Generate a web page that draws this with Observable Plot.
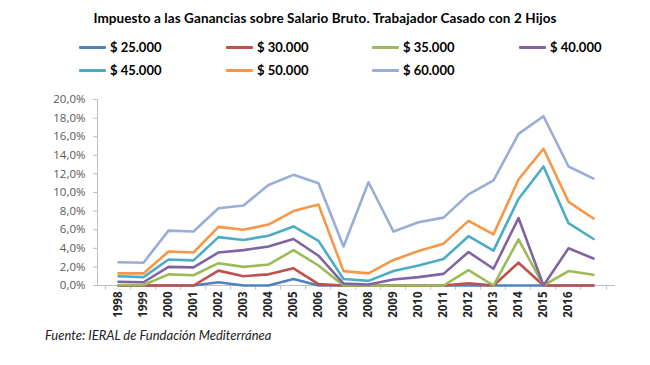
<!DOCTYPE html>
<html><head><meta charset="utf-8">
<script src="https://cdn.jsdelivr.net/npm/d3@7"></script>
<script src="https://cdn.jsdelivr.net/npm/@observablehq/plot@0.6"></script>
<style>
body{margin:0;background:#fff;}
#wrap{position:relative;width:650px;height:365px;overflow:hidden;font-family:Lato,sans-serif;color:#000;}
#title{position:absolute;left:0;width:650px;top:10px;text-align:center;font-weight:bold;font-size:13.5px;letter-spacing:0.1px;}
.leg{position:absolute;display:flex;align-items:center;font-weight:bold;font-size:13px;height:16px;}
.sw{width:27px;height:3px;margin-right:4px;border-radius:1px;}
#chart{position:absolute;left:0;top:85px;}
#cap{position:absolute;left:45px;top:327px;font-style:italic;font-size:13px;color:#222;}
#chart svg [aria-label^="y-axis"] text{fill:#595959;}
#chart svg [aria-label^="x-axis"] text{fill:#262626;font-weight:bold;}
</style></head>
<body>
<div id="wrap">
  <div id="title">Impuesto a las Ganancias sobre Salario Bruto. Trabajador Casado con 2 Hijos</div>
  <div id="legend"></div>
  <div id="chart"></div>
  <div id="cap">Fuente: IERAL de Fundación Mediterránea</div>
</div>
<script>
const years = [1998,1999,2000,2001,2002,2003,2004,2005,2006,2007,2008,2009,2010,2011,2012,2013,2014,2015,2016,2017];
const yearLabels = ["1998","1999","2000","2001","2002","2003","2004","2005","2006","2007","2008","2009","2010","2011","2012","2013","2014","2015","2016",""];
const seriesNames = ["$ 25.000","$ 30.000","$ 35.000","$ 40.000","$ 45.000","$ 50.000","$ 60.000"];
const seriesColors = ["#4F81BD","#C0504D","#9BBB59","#8064A2","#4BACC6","#F79646","#98AED8"];
const yTicks = [0,2,4,6,8,10,12,14,16,18,20];

const s25 = [0,0,0,0,0.35,0,0,0.7,0,0,0,0,0,0,0,0,0,0,0,0];
const s30 = [0,0,0,0,1.6,1.0,1.2,1.85,0.15,0,0,0,0,0,0.25,0,2.45,0,0,0];
const s35 = [0.05,0.05,1.2,1.1,2.4,2.0,2.25,3.8,2.15,0,0,0,0,0,1.65,0,4.95,0,1.55,1.15];
const s40 = [0.4,0.35,2.0,1.95,3.55,3.8,4.2,5.0,3.2,0.2,0.1,0.65,0.9,1.25,3.6,1.8,7.25,0,4.0,2.9];
const s45 = [1.0,0.9,2.8,2.7,5.2,4.9,5.35,6.35,4.8,0.7,0.5,1.55,2.15,2.85,5.3,3.75,9.3,12.8,6.7,5.0];
const s50 = [1.3,1.3,3.65,3.55,6.3,6.0,6.55,8.0,8.7,1.55,1.3,2.75,3.7,4.5,6.95,5.5,11.4,14.7,9.0,7.2];
const s60 = [2.5,2.45,5.9,5.8,8.3,8.6,10.8,11.9,11.0,4.2,11.1,5.8,6.8,7.3,9.8,11.3,16.3,18.2,12.8,11.5];
const seriesValues = [s25,s30,s35,s40,s45,s50,s60];

const rows = seriesNames.flatMap((name,i)=>years.map((yr,j)=>({series:name, year:yr, value:seriesValues[i][j]})));

// legend
const legPos = [[79,39],[226,39],[372,39],[519,39],[79,62],[226,62],[372,62]];
const legend = document.getElementById("legend");
seriesNames.forEach((n,i)=>{
  const d = document.createElement("div");
  d.className = "leg";
  d.style.left = legPos[i][0]+"px";
  d.style.top = legPos[i][1]+"px";
  d.innerHTML = `<span class="sw" style="background:${seriesColors[i]}"></span><span>${n}</span>`;
  legend.appendChild(d);
});

const W = 650, H = 240, mL = 97, mR = 36, mT = 14, mB = 40;
const step = (W - mL - mR) / years.length;
const fmt = d => d.toFixed(1).replace(".", ",") + "%";

const chart = Plot.plot({
  width: W, height: H,
  marginLeft: mL, marginRight: mR, marginTop: mT, marginBottom: mB,
  style: {fontFamily: "'Open Sans', sans-serif", fontSize: "11.5px", color: "#bfbfbf", background: "transparent"},
  x: {type: "point", domain: years, padding: 0.5, tickFormat: d => yearLabels[years.indexOf(d)], tickRotate: -90, tickSize: 0, tickPadding: 6, line: true, label: null},
  y: {domain: [0, 20], ticks: yTicks, tickFormat: fmt, tickSize: 4, tickPadding: 8, line: true, label: null},
  color: {domain: seriesNames, range: seriesColors},
  marks: [
    Plot.ruleX(years, {x: d => d, y1: 0, y2: -0.5, dx: -step / 2, stroke: "#bfbfbf"}),
    Plot.ruleX([years[years.length - 1]], {x: d => d, y1: 0, y2: -0.5, dx: step / 2, stroke: "#bfbfbf"}),
    Plot.line(rows, {x: "year", y: "value", z: "series", stroke: "series", strokeWidth: 2.6, strokeLinejoin: "round"})
  ]
});
document.getElementById("chart").appendChild(chart);
</script>
</body></html>
